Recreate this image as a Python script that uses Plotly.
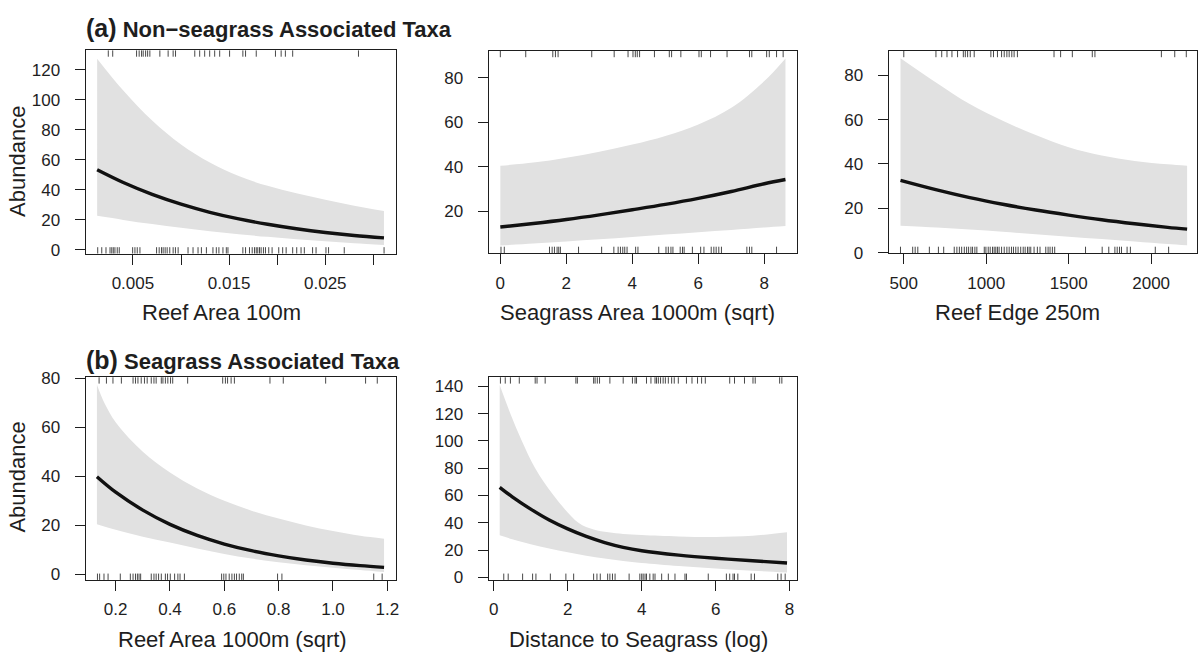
import plotly.graph_objects as go

FONT = "Liberation Sans, Arial, Helvetica, sans-serif"
W, H = 1204, 662
INK = "#1e1e1e"
BAND = "#e1e1e1"

# ---------------- data ----------------
# Panel (a1) Reef Area 100m
p1_fit_x = [0.00128, 0.004, 0.007, 0.010, 0.013, 0.016, 0.019, 0.022, 0.025, 0.028, 0.0311]
p1_fit = [53.2, 44.7, 36.8, 30.3, 24.9, 20.5, 16.9, 13.9, 11.4, 9.4, 7.8]
p1_up_x = [0.00128, 0.004, 0.007, 0.010, 0.013, 0.016, 0.019, 0.022, 0.025, 0.028, 0.0311]
p1_up = [127.3, 106.0, 86.0, 70.0, 58.0, 49.0, 42.5, 37.5, 33.2, 29.2, 25.7]
p1_lo_x = [0.00128, 0.004, 0.007, 0.010, 0.013, 0.016, 0.019, 0.022, 0.025, 0.028, 0.0311]
p1_lo = [22.5, 19.8, 17.0, 14.5, 12.3, 10.3, 8.5, 6.9, 5.5, 4.2, 3.0]
p1_rug_bot = [0.00134, 0.00176, 0.0022, 0.00262, 0.0028, 0.00296, 0.00313, 0.00337, 0.00358,
              0.00497, 0.00521, 0.00545, 0.00573, 0.00746, 0.00773, 0.00797, 0.00814, 0.00835,
              0.00856, 0.00883, 0.00918, 0.00942, 0.0097, 0.01073, 0.01125, 0.01177, 0.01212,
              0.01264, 0.01332, 0.01367, 0.01394, 0.01436, 0.01471, 0.01488, 0.01643, 0.01671,
              0.01712, 0.0174, 0.01764, 0.01782, 0.01798, 0.01816, 0.01833, 0.01857, 0.01878,
              0.01912, 0.01947, 0.02016, 0.02057, 0.02093, 0.02161, 0.02203, 0.02248, 0.02282,
              0.02368, 0.02404, 0.02507, 0.02534, 0.02697, 0.03111]
p1_rug_top = [0.00244, 0.0029, 0.00538, 0.00565, 0.0059, 0.00607, 0.00632, 0.00653, 0.00676,
              0.0078, 0.00866, 0.00918, 0.00943, 0.01143, 0.01194, 0.01246, 0.01298, 0.0135,
              0.01402, 0.01505, 0.01643, 0.01671, 0.01782, 0.01982, 0.02041, 0.02085, 0.02161,
              0.02845]
p1_xticks = [0.005, 0.010, 0.015, 0.020, 0.025, 0.030]
p1_xlabels = ["0.005", "", "0.015", "", "0.025", ""]
p1_yticks = [0, 20, 40, 60, 80, 100, 120]

# Panel (a2) Seagrass Area 1000m (sqrt)
p2_fit_x = [0, 1, 2, 3, 4, 5, 6, 7, 8, 8.64]
p2_fit = [12.8, 14.4, 16.2, 18.3, 20.6, 23.0, 25.7, 28.8, 32.3, 34.2]
p2_up_x = [0, 1, 2, 3, 4, 5, 6, 7, 8, 8.64]
p2_up = [40.4, 41.8, 44.0, 46.7, 49.9, 53.8, 59.0, 66.5, 78.5, 88.7]
p2_lo_x = [0, 1, 2, 3, 4, 5, 6, 7, 8, 8.64]
p2_lo = [4.5, 5.4, 6.3, 7.3, 8.3, 9.4, 10.5, 11.5, 12.6, 13.3]
p2_rug_bot = [0.02, 0.12, 1.49, 1.57, 1.64, 1.72, 1.77, 1.82, 2.37, 3.07, 3.44, 3.57, 3.64,
              3.71, 3.77, 3.84, 4.1, 4.17, 4.8, 5.02, 5.09, 5.17, 5.23, 5.45, 5.52, 5.57, 5.82,
              6.07, 6.17, 6.39, 6.47, 6.54, 6.62, 6.7, 7.47, 7.55, 7.62, 8.37]
p2_rug_top = [0.0, 0.77, 1.59, 1.67, 1.75, 2.77, 3.45, 3.87, 4.02, 4.09, 4.15, 4.22, 4.67,
              5.12, 5.19, 5.47, 6.02, 6.09, 6.37, 6.87, 7.55, 7.62, 8.07, 8.15, 8.37, 8.57]
p2_xticks = [0, 2, 4, 6, 8]
p2_xlabels = ["0", "2", "4", "6", "8"]
p2_yticks = [20, 40, 60, 80]

# Panel (a3) Reef Edge 250m
p3_fit_x = [480, 700, 900, 1100, 1300, 1500, 1700, 1900, 2100, 2218]
p3_fit = [32.6, 28.3, 24.8, 21.8, 19.2, 16.9, 14.8, 13.0, 11.4, 10.6]
p3_up_x = [480, 700, 900, 1100, 1300, 1500, 1700, 1900, 2100, 2218]
p3_up = [87.7, 76.5, 67.0, 59.5, 53.0, 47.5, 43.8, 41.3, 39.8, 39.2]
p3_lo_x = [480, 700, 900, 1100, 1300, 1500, 1700, 1900, 2100, 2218]
p3_lo = [12.1, 11.3, 10.4, 9.4, 8.3, 7.2, 6.1, 5.0, 3.9, 3.3]
p3_rug_bot = [480, 554, 569, 585, 655, 710, 742, 806, 822, 837, 851, 867, 881, 893, 907, 917,
              931, 943, 988, 998, 1012, 1024, 1038, 1048, 1058, 1068, 1078, 1093, 1109, 1125,
              1139, 1153, 1165, 1179, 1193, 1209, 1224, 1236, 1250, 1260, 1270, 1290, 1310,
              1326, 1361, 1375, 1387, 1401, 1415, 1602, 1703, 1743, 1780, 1794, 1808, 1820,
              1854, 1874, 2025, 2106]
p3_rug_top = [500, 695, 730, 762, 792, 826, 861, 873, 887, 903, 927, 1028, 1044, 1068, 1093,
              1109, 1125, 1139, 1155, 1169, 1189, 1411, 1451, 1522, 1643, 1659, 2062, 2143, 2213]
p3_xticks = [500, 1000, 1500, 2000]
p3_xlabels = ["500", "1000", "1500", "2000"]
p3_yticks = [0, 20, 40, 60, 80]

# Panel (b1) Reef Area 1000m (sqrt)
p4_fit_x = [0.131, 0.2, 0.3, 0.4, 0.5, 0.6, 0.7, 0.8, 0.9, 1.0, 1.1, 1.188]
p4_fit = [39.8, 33.5, 26.2, 20.4, 15.9, 12.4, 9.7, 7.6, 5.9, 4.6, 3.6, 2.9]
p4_up_x = [0.131, 0.16, 0.2, 0.3, 0.4, 0.5, 0.6, 0.7, 0.8, 0.9, 1.0, 1.1, 1.188]
p4_up = [77.3, 69.5, 62.0, 50.0, 41.5, 35.0, 30.0, 26.0, 22.8, 20.0, 17.7, 15.8, 14.6]
p4_lo_x = [0.131, 0.2, 0.3, 0.4, 0.5, 0.6, 0.7, 0.8, 0.9, 1.0, 1.1, 1.188]
p4_lo = [20.5, 18.2, 15.4, 13.0, 10.6, 8.4, 6.5, 5.0, 3.8, 2.8, 1.8, 1.0]
p4_rug_bot = [0.133, 0.141, 0.157, 0.172, 0.217, 0.254, 0.264, 0.273, 0.280, 0.286, 0.292,
              0.331, 0.341, 0.349, 0.358, 0.368, 0.383, 0.391, 0.401, 0.417, 0.429, 0.437,
              0.453, 0.590, 0.598, 0.606, 0.618, 0.628, 0.637, 0.645, 0.655, 0.664, 0.670,
              0.796, 0.812, 1.150, 1.181]
p4_rug_top = [0.139, 0.166, 0.190, 0.221, 0.264, 0.273, 0.282, 0.294, 0.306, 0.316, 0.331,
              0.341, 0.349, 0.368, 0.374, 0.383, 0.392, 0.402, 0.410, 0.465, 0.594, 0.604,
              0.612, 0.625, 0.637, 0.768, 0.817, 0.973, 1.120, 1.163]
p4_xticks = [0.2, 0.4, 0.6, 0.8, 1.0, 1.2]
p4_xlabels = ["0.2", "0.4", "0.6", "0.8", "1.0", "1.2"]
p4_yticks = [0, 20, 40, 60, 80]

# Panel (b2) Distance to Seagrass (log)
p5_fit_x = [0.16, 0.5, 1.0, 1.5, 2.0, 2.5, 3.0, 3.5, 4.0, 5.0, 6.0, 7.0, 7.93]
p5_fit = [66.0, 59.0, 50.0, 42.0, 35.5, 30.0, 25.5, 22.0, 19.5, 16.3, 14.0, 12.2, 10.5]
p5_up_x = [0.16, 0.45, 0.76, 1.12, 1.62, 2.29, 2.7, 3.1, 3.5, 4.0, 5.0, 6.0, 7.0, 7.93]
p5_up = [141, 120, 100, 80, 60, 40, 35, 33, 31.8, 31, 30, 29.6, 30.5, 33]
p5_lo_x = [0.16, 0.5, 1.0, 1.5, 2.0, 2.5, 3.0, 3.5, 4.0, 5.0, 6.0, 7.0, 7.93]
p5_lo = [30.8, 28.0, 24.3, 21.2, 18.4, 15.9, 13.8, 12.0, 10.6, 8.4, 6.5, 4.9, 3.6]
p5_rug_bot = [0.27, 0.39, 0.78, 1.05, 1.14, 1.53, 1.95, 2.16, 2.70, 2.79, 2.88, 3.08, 3.14,
              3.21, 3.28, 3.66, 3.95, 4.00, 4.04, 4.09, 4.13, 4.22, 4.31, 4.36, 4.54, 4.72,
              4.90, 5.17, 5.21, 5.80, 6.29, 6.38, 6.47, 6.51, 6.60, 6.96, 7.05, 7.68, 7.77, 7.88]
p5_rug_top = [0.18, 0.31, 0.45, 0.69, 1.12, 1.17, 1.39, 2.22, 2.26, 2.70, 2.74, 2.80, 2.86,
              3.14, 3.50, 3.75, 3.82, 3.86, 4.13, 4.25, 4.36, 4.40, 4.45, 4.51, 4.58, 4.64,
              4.72, 4.81, 4.88, 4.99, 5.21, 5.36, 5.51, 5.62, 5.72, 6.38, 6.51, 6.78, 7.01,
              7.07, 7.73, 7.79]
p5_xticks = [0, 2, 4, 6, 8]
p5_xlabels = ["0", "2", "4", "6", "8"]
p5_yticks = [0, 20, 40, 60, 80, 100, 120, 140]

x_titles = ["Reef Area 100m", "Seagrass Area 1000m (sqrt)", "Reef Edge 250m",
            "Reef Area 1000m (sqrt)", "Distance to Seagrass (log)"]
y_title = "Abundance"
panel_titles = [("(a)", "Non\u2212seagrass Associated Taxa"), ("(b)", "Seagrass Associated Taxa")]

# ---------------- layout geometry (pixels) ----------------
panels = [
    dict(box=(86, 396.5, 43.5, 252), xr=[0.0001, 0.0323], yr=[-2.6, 132.8],
         fx=p1_fit_x, f=p1_fit, ux=p1_up_x, u=p1_up, lx=p1_lo_x, l=p1_lo,
         rb=p1_rug_bot, rt=p1_rug_top, xt=p1_xticks, xl=p1_xlabels, yt=p1_yticks, tx=222),
    dict(box=(490, 799, 44, 251.5), xr=[-0.35, 8.99], yr=[1.1, 92.1],
         fx=p2_fit_x, f=p2_fit, ux=p2_up_x, u=p2_up, lx=p2_lo_x, l=p2_lo,
         rb=p2_rug_bot, rt=p2_rug_top, xt=p2_xticks, xl=p2_xlabels, yt=p2_yticks, tx=639),
    dict(box=(891, 1200, 44, 251.5), xr=[409, 2278], yr=[-0.2, 91.0],
         fx=p3_fit_x, f=p3_fit, ux=p3_up_x, u=p3_up, lx=p3_lo_x, l=p3_lo,
         rb=p3_rug_bot, rt=p3_rug_top, xt=p3_xticks, xl=p3_xlabels, yt=p3_yticks, tx=1020),
    dict(box=(86, 397, 379, 587), xr=[0.09, 1.232], yr=[-2.2, 80.3],
         fx=p4_fit_x, f=p4_fit, ux=p4_up_x, u=p4_up, lx=p4_lo_x, l=p4_lo,
         rb=p4_rug_bot, rt=p4_rug_top, xt=p4_xticks, xl=p4_xlabels, yt=p4_yticks, tx=233),
    dict(box=(490, 799, 379, 587), xr=[-0.135, 8.2], yr=[-1.9, 146.7],
         fx=p5_fit_x, f=p5_fit, ux=p5_up_x, u=p5_up, lx=p5_lo_x, l=p5_lo,
         rb=p5_rug_bot, rt=p5_rug_top, xt=p5_xticks, xl=p5_xlabels, yt=p5_yticks, tx=640),
]

fig = go.Figure()
shapes = []
annotations = []
RUG = 6.5

for i, p in enumerate(panels, start=1):
    xa = "x" if i == 1 else f"x{i}"
    ya = "y" if i == 1 else f"y{i}"
    x0, x1, y0, y1 = p["box"]
    # confidence band
    fig.add_trace(go.Scatter(x=p["lx"], y=p["l"], xaxis=xa, yaxis=ya, mode="lines",
                             line=dict(width=0, color=BAND, shape="spline", smoothing=1.0),
                             showlegend=False, hoverinfo="skip"))
    fig.add_trace(go.Scatter(x=p["ux"], y=p["u"], xaxis=xa, yaxis=ya, mode="lines",
                             line=dict(width=0, color=BAND, shape="spline", smoothing=1.0),
                             fill="tonexty", fillcolor=BAND,
                             showlegend=False, hoverinfo="skip"))
    # fitted line
    fig.add_trace(go.Scatter(x=p["fx"], y=p["f"], xaxis=xa, yaxis=ya, mode="lines",
                             line=dict(width=3.4, color="#111111", shape="spline", smoothing=1.0),
                             showlegend=False))
    hpx = y1 - y0
    for v in p["rb"]:
        shapes.append(dict(type="line", xref=xa, yref=f"{ya} domain", x0=v, x1=v,
                           y0=0, y1=RUG / hpx, line=dict(color="#333333", width=0.9)))
    for v in p["rt"]:
        shapes.append(dict(type="line", xref=xa, yref=f"{ya} domain", x0=v, x1=v,
                           y0=1 - RUG / hpx, y1=1, line=dict(color="#333333", width=0.9)))

    axis_common = dict(showgrid=False, zeroline=False, showline=True, mirror=True,
                       linecolor=INK, linewidth=1.3, ticks="outside", ticklen=10,
                       tickwidth=1.3, tickcolor=INK,
                       tickfont=dict(family=FONT, size=17, color=INK))
    fig.update_layout(**{
        ("xaxis" if i == 1 else f"xaxis{i}"): dict(
            axis_common, domain=[x0 / W, x1 / W], range=p["xr"], anchor=ya,
            tickmode="array", tickvals=p["xt"], ticktext=p["xl"], ticklabelstandoff=4),
        ("yaxis" if i == 1 else f"yaxis{i}"): dict(
            axis_common, domain=[1 - y1 / H, 1 - y0 / H], range=p["yr"], anchor=xa,
            tickmode="array", tickvals=p["yt"], ticktext=[str(t) for t in p["yt"]],
            ticklabelstandoff=11),
    })
    # x-axis title
    annotations.append(dict(text=x_titles[i - 1], xref="paper", yref="paper",
                            x=p["tx"] / W, y=1 - (y1 + 61) / H, xanchor="center", yanchor="middle",
                            showarrow=False, font=dict(family=FONT, size=22, color=INK)))

# y-axis titles
for yc in (157, 481):
    annotations.append(dict(text=y_title, xref="paper", yref="paper", x=18 / W, y=1 - yc / H,
                            xanchor="center", yanchor="middle", textangle=-90, showarrow=False,
                            font=dict(family=FONT, size=22, color=INK)))

# panel titles
for (lab, txt), yb in zip(panel_titles, (21, 361)):
    annotations.append(dict(text=f"<b><span style='font-size:25px'>{lab}</span> {txt}</b>",
                            xref="paper", yref="paper", x=84 / W, y=1 - yb / H,
                            xanchor="left", yanchor="middle", showarrow=False,
                            font=dict(family=FONT, size=22, color=INK)))

fig.update_layout(width=W, height=H, margin=dict(l=0, r=0, t=0, b=0),
                  paper_bgcolor="white", plot_bgcolor="white",
                  shapes=shapes, annotations=annotations, showlegend=False,
                  font=dict(family=FONT, color=INK))

fig.write_html("out.html")
